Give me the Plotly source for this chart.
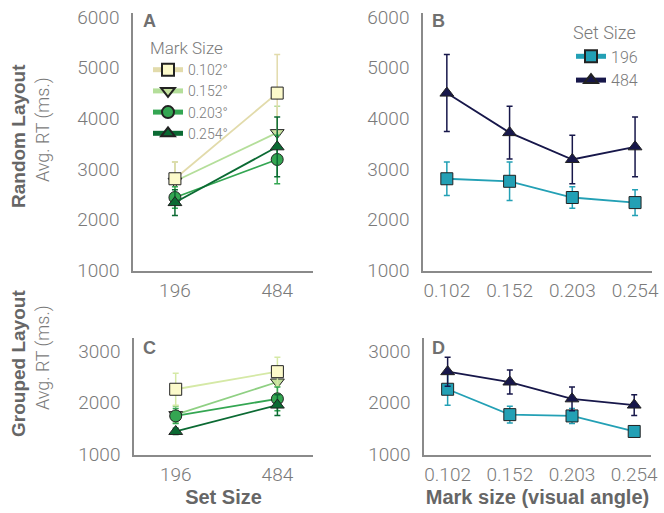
import plotly.graph_objects as go

# ---- data -------------------------------------------------------------
set_sizes = ["196", "484"]
mark_sizes = ["0.102", "0.152", "0.203", "0.254"]
mark_labels = ["0.102°", "0.152°", "0.203°", "0.254°"]

# Random layout: mean response time (ms) and error, per mark size
random_rt_196 = [2810, 2760, 2440, 2340]
random_rt_484 = [4500, 3720, 3190, 3440]
random_err_196 = [330, 380, 210, 255]
random_err_484 = [760, 520, 480, 590]

# Grouped layout: mean response time (ms) and error, per mark size
grouped_rt_196 = [2260, 1770, 1745, 1445]
grouped_rt_484 = [2600, 2400, 2075, 1955]
grouped_err_196 = [310, 160, 145, 60]
grouped_err_484 = [280, 230, 230, 200]

yticks_random = [1000, 2000, 3000, 4000, 5000, 6000]
yticks_grouped = [1000, 2000, 3000]

# ---- styles -----------------------------------------------------------
mark_fill = ["#fcfacb", "#c4e29d", "#34a652", "#0b6a33"]
mark_line_random = ["#e2dbab", "#b4de9a", "#34a652", "#0b6a33"]
mark_line_grouped = ["#d5e9a6", "#8fd083", "#34a652", "#0b6a33"]
mark_symbol = ["square", "triangle-down", "circle", "triangle-up"]
draw_order = [1, 0, 2, 3]

set_color = {"196": "#23a0b5", "484": "#17174a"}
set_symbol = {"196": "square", "484": "triangle-up"}

GRAY = "#7a7a7a"
LIGHT = "Roboto"
BOLD = "Liberation Sans"
tick_font = dict(family=LIGHT, size=19, color=GRAY, weight=300)

fig = go.Figure()


def add_by_set_size(rt196, rt484, e196, e484, xa, ya, line_colors, legend_on):
    for i in draw_order:
        fig.add_trace(go.Scatter(
            x=set_sizes, y=[rt196[i], rt484[i]],
            error_y=dict(type="data", array=[e196[i], e484[i]], color=line_colors[i],
                         thickness=1.5, width=3),
            mode="lines+markers",
            line=dict(color=line_colors[i], width=1.8),
            marker=dict(symbol=mark_symbol[i], size=12, color=mark_fill[i],
                        line=dict(color="#222222", width=1)),
            name=mark_labels[i], legendrank=i + 1,
            showlegend=legend_on, legend="legend",
            xaxis=xa, yaxis=ya,
        ))


def add_by_mark_size(rt196, rt484, e196, e484, xa, ya, legend_on):
    for s, rt, err in (("196", rt196, e196), ("484", rt484, e484)):
        fig.add_trace(go.Scatter(
            x=mark_sizes, y=rt,
            error_y=dict(type="data", array=err, color=set_color[s],
                         thickness=1.5, width=3),
            mode="lines+markers",
            line=dict(color=set_color[s], width=1.8),
            marker=dict(symbol=set_symbol[s], size=12, color=set_color[s],
                        line=dict(color="#222222", width=1)),
            name=s, showlegend=legend_on, legend="legend2",
            xaxis=xa, yaxis=ya,
        ))


add_by_set_size(random_rt_196, random_rt_484, random_err_196, random_err_484,
                "x", "y", mark_line_random, True)
add_by_mark_size(random_rt_196, random_rt_484, random_err_196, random_err_484,
                 "x2", "y2", True)
add_by_set_size(grouped_rt_196, grouped_rt_484, grouped_err_196, grouped_err_484,
                "x3", "y3", mark_line_grouped, False)
add_by_mark_size(grouped_rt_196, grouped_rt_484, grouped_err_196, grouped_err_484,
                 "x4", "y4", False)

W, H = 664, 513


def px_x(a, b):
    return [a / W, b / W]


def px_y(top, bottom):
    return [1 - bottom / H, 1 - top / H]


axis_common = dict(showline=True, linecolor="#8a8a8a", linewidth=1.5,
                   showgrid=False, zeroline=False, ticks="", automargin=False,
                   tickfont=tick_font, fixedrange=True)

title_font = dict(family=BOLD, size=20, color="#666666", weight="bold")

fig.update_layout(
    width=W, height=H,
    margin=dict(l=0, r=0, t=0, b=0, autoexpand=False),
    paper_bgcolor="white", plot_bgcolor="white",
    xaxis=dict(axis_common, domain=px_x(133, 313), anchor="y", type="category",
               range=[-0.41, 1.35], ticklabelstandoff=2),
    yaxis=dict(axis_common, domain=px_y(13, 270.5), anchor="x",
               range=[1000, 6080], tickvals=yticks_random, ticklabelstandoff=8),
    xaxis2=dict(axis_common, domain=px_x(423, 652), anchor="y2", type="category",
                range=[-0.38, 3.27], ticklabelstandoff=2),
    yaxis2=dict(axis_common, domain=px_y(13, 270.5), anchor="x2",
                range=[1000, 6080], tickvals=yticks_random, ticklabelstandoff=8),
    xaxis3=dict(axis_common, domain=px_x(134, 313), anchor="y3", type="category",
                range=[-0.41, 1.35], ticklabelstandoff=2,
                title=dict(text="Set Size", font=title_font, standoff=5)),
    yaxis3=dict(axis_common, domain=px_y(338, 454.5), anchor="x3",
                range=[1000, 3250], tickvals=yticks_grouped, ticklabelstandoff=8),
    xaxis4=dict(axis_common, domain=px_x(424, 651), anchor="y4", type="category",
                range=[-0.38, 3.27], ticklabelstandoff=2,
                title=dict(text="Mark size (visual angle)", font=title_font, standoff=5)),
    yaxis4=dict(axis_common, domain=px_y(338, 454.5), anchor="x4",
                range=[1000, 3250], tickvals=yticks_grouped, ticklabelstandoff=8),
    legend=dict(x=148 / W, y=1 - 32 / H, xanchor="left", yanchor="top",
                bgcolor="rgba(0,0,0,0)", itemsizing="constant", tracegroupgap=0,
                title=dict(text="Mark Size", font=dict(family=LIGHT, size=17, color=GRAY, weight=300)),
                font=dict(family=LIGHT, size=14, color=GRAY, weight=300)),
    legend2=dict(x=571 / W, y=1 - 16 / H, xanchor="left", yanchor="top",
                 bgcolor="rgba(0,0,0,0)", itemsizing="constant", tracegroupgap=0,
                 title=dict(text="Set Size", font=dict(family=LIGHT, size=18, color=GRAY, weight=300)),
                 font=dict(family=LIGHT, size=16, color=GRAY, weight=300)),
)

letter_font = dict(family=BOLD, size=18, color="#707070", weight="bold")
for letter, xp, yp in (("A", 141, 21), ("B", 430, 21), ("C", 141, 348), ("D", 430, 348)):
    fig.add_annotation(text=letter, x=xp / W, y=1 - yp / H, xref="paper", yref="paper",
                       xanchor="left", yanchor="middle", showarrow=False, font=letter_font)

row_labels = (("Random Layout", 136), ("Grouped Layout", 364))
for label, yc in row_labels:
    fig.add_annotation(text=label, x=18 / W, y=1 - yc / H, xref="paper", yref="paper",
                       textangle=-90, showarrow=False, xanchor="center", yanchor="middle",
                       font=dict(family=BOLD, size=19, color="#666666", weight="bold"))
    fig.add_annotation(text="Avg. RT (ms.)", x=43 / W, y=1 - (yc - 6) / H,
                       xref="paper", yref="paper", textangle=-90, showarrow=False,
                       xanchor="center", yanchor="middle",
                       font=dict(family=LIGHT, size=18, color=GRAY, weight=300))

fig.write_html("out.html")
